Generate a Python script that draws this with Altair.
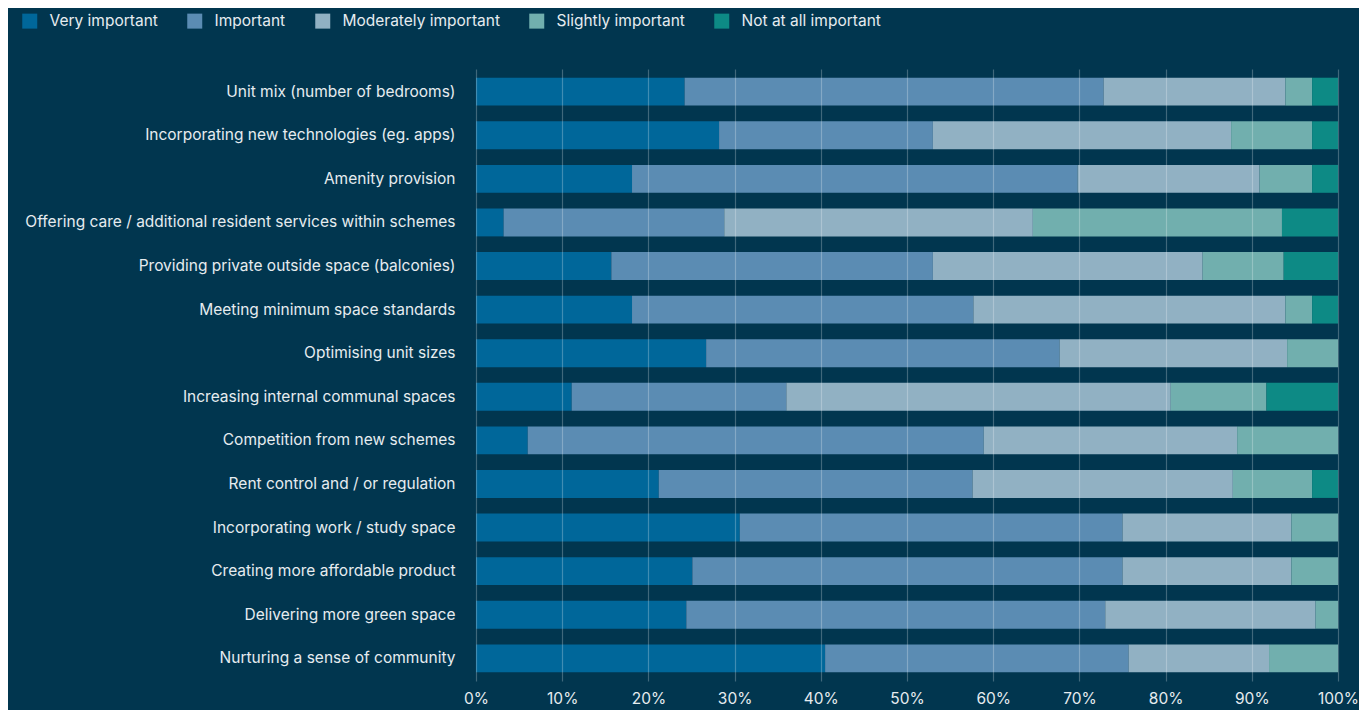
import altair as alt
import pandas as pd

categories = [
    "Unit mix (number of bedrooms)",
    "Incorporating new technologies (eg. apps)",
    "Amenity provision",
    "Offering care / additional resident services within schemes",
    "Providing private outside space (balconies)",
    "Meeting minimum space standards",
    "Optimising unit sizes",
    "Increasing internal communal spaces",
    "Competition from new schemes",
    "Rent control and / or regulation",
    "Incorporating work / study space",
    "Creating more affordable product",
    "Delivering more green space",
    "Nurturing a sense of community",
]
levels = ["Very important", "Important", "Moderately important",
          "Slightly important", "Not at all important"]
colors = ["#00679a", "#5b8cb3", "#91b1c3", "#71afae", "#0d8a85"]

very_important = [24.2, 28.2, 18.1, 3.2, 15.7, 18.1, 26.7, 11.1, 6.0, 21.2, 30.6, 25.1, 24.4, 40.5]
important = [48.6, 24.8, 51.7, 25.6, 37.3, 39.6, 41.0, 24.9, 52.9, 36.4, 44.4, 49.9, 48.6, 35.2]
moderately = [21.1, 34.6, 21.1, 35.8, 31.3, 36.2, 26.4, 44.6, 29.4, 30.2, 19.6, 19.6, 24.4, 16.3]
slightly = [3.1, 9.4, 6.1, 28.9, 9.4, 3.1, 5.9, 11.1, 11.7, 9.2, 5.4, 5.4, 2.6, 8.0]
not_at_all = [3.0, 3.0, 3.0, 6.5, 6.3, 3.0, 0.0, 8.3, 0.0, 3.0, 0.0, 0.0, 0.0, 0.0]
x_ticks = [0, 10, 20, 30, 40, 50, 60, 70, 80, 90, 100]

series = [very_important, important, moderately, slightly, not_at_all]
rows = []
for li, (lvl, vals) in enumerate(zip(levels, series)):
    for cat, v in zip(categories, vals):
        rows.append({"category": cat, "level": lvl, "order": li, "value": v})
df = pd.DataFrame(rows)

FONT = "Inter"
TEXT = "#e6ecef"
FS = 15.5

chart = alt.Chart(df).mark_bar(strokeWidth=0).encode(
    y=alt.Y("category:N", sort=categories, title=None,
            scale=alt.Scale(paddingInner=0.36, paddingOuter=0.2),
            axis=alt.Axis(domain=False, ticks=False, labelPadding=21,
                          labelFontSize=FS, labelColor=TEXT, labelFont=FONT,
                          labelLimit=600)),
    x=alt.X("value:Q", stack="zero", title=None,
            scale=alt.Scale(domain=[0, 100], nice=False),
            axis=alt.Axis(values=x_ticks, labelExpr="datum.value + '%'",
                          grid=True, gridColor="#ffffff", gridOpacity=0.25,
                          gridWidth=1.2, zindex=1, domain=False, ticks=False,
                          labelFlush=False, labelPadding=10,
                          labelFontSize=FS, labelColor=TEXT, labelFont=FONT)),
    color=alt.Color("level:N", sort=levels,
                    scale=alt.Scale(domain=levels, range=colors),
                    legend=alt.Legend(orient="none", legendX=-454, legendY=-56,
                                      direction="horizontal", title=None,
                                      symbolType="square", symbolSize=225,
                                      symbolStrokeWidth=0, labelFontSize=FS,
                                      labelColor=TEXT, labelFont=FONT,
                                      labelOffset=12, columnPadding=29,
                                      padding=0, labelLimit=300)),
    order=alt.Order("order:Q"),
).properties(
    width=862, height=612,
    autosize=alt.AutoSizeParams(type="none"),
    padding={"left": 468, "top": 61, "right": 21, "bottom": 29},
    background="#01364f",
).configure_view(stroke=None)

chart.save("out.html", embed_options={"renderer": "svg", "actions": False})
